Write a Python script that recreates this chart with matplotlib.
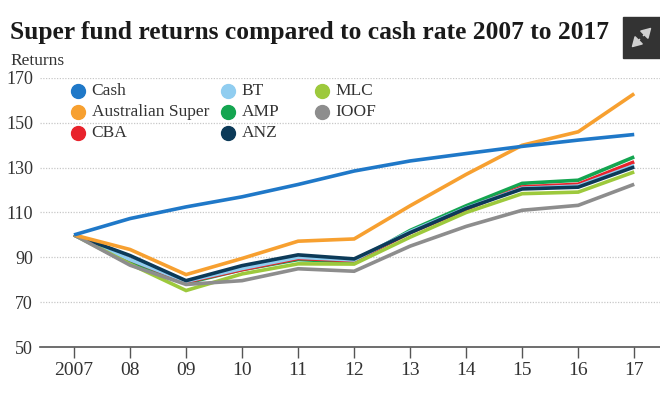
import matplotlib
matplotlib.use("Agg")
import matplotlib.pyplot as plt
from matplotlib.patches import Rectangle, FancyArrowPatch

years = ["2007", "08", "09", "10", "11", "12", "13", "14", "15", "16", "17"]
cash = [100, 107.3, 112.5, 117, 122.5, 128.5, 133, 136.3, 139.5, 142.3, 144.8]
aus_super = [100, 93.5, 82.3, 89.5, 97.2, 98.2, 113, 127, 140, 146, 163]
cba = [100, 89, 79, 84.5, 89.5, 88.5, 101, 111.5, 121.4, 122.6, 132.6]
bt = [100, 89, 79.3, 85, 90, 88.8, 101.5, 112, 120.8, 121.8, 131]
amp = [100, 88, 78.5, 84.5, 89, 88, 102, 113, 123, 124.4, 134.8]
anz = [100, 90.8, 79.6, 86.3, 91.1, 89.3, 101, 111.8, 120.5, 121.3, 130.3]
mlc = [100, 87, 75.2, 82.6, 87.1, 87, 99, 110, 118.4, 119.1, 128.1]
ioof = [100, 86.5, 77.9, 79.6, 84.9, 83.8, 95, 103.8, 111, 113.2, 122.6]
yticks = [50, 70, 90, 110, 130, 150, 170]

colors = {
    "Cash": "#1f78c8",
    "Australian Super": "#f7a030",
    "CBA": "#e8232c",
    "BT": "#90cdf0",
    "AMP": "#14a550",
    "ANZ": "#0c3a58",
    "MLC": "#9dc93c",
    "IOOF": "#8d8d8d",
}
series = {
    "Cash": cash, "Australian Super": aus_super, "CBA": cba, "BT": bt,
    "AMP": amp, "ANZ": anz, "MLC": mlc, "IOOF": ioof,
}
draw_order = ["AMP", "CBA", "BT", "MLC", "ANZ", "IOOF", "Australian Super", "Cash"]
legend_cols = [["Cash", "Australian Super", "CBA"], ["BT", "AMP", "ANZ"], ["MLC", "IOOF"]]

serif = ["Liberation Serif", "DejaVu Serif"]
plt.rcParams["font.family"] = serif

fig = plt.figure(figsize=(6.6, 3.98), dpi=100)
ax = fig.add_axes([40 / 660, 1 - 347 / 398, 620 / 660, (347 - 78) / 398])

x = list(range(len(years)))
for name in draw_order:
    ax.plot(x, series[name], color=colors[name], lw=2.6, solid_capstyle="butt",
            solid_joinstyle="miter", zorder=3)

ax.set_xlim(-0.607, len(years) - 1 + 0.46)
ax.set_ylim(50, 170)
ax.set_yticks(yticks)
ax.set_yticklabels([str(v) for v in yticks], fontsize=13, color="#333333")
ax.set_xticks(x)
ax.set_xticklabels(years, fontsize=14, color="#333333")
ax.tick_params(axis="y", length=0, pad=5)
ax.tick_params(axis="x", length=8, width=1, color="#555555", pad=3)
for v in yticks[1:]:
    ax.axhline(v, color="#c8c8c8", lw=0.9, ls=(0, (1, 1.2)), zorder=1)
for s in ["top", "right", "left"]:
    ax.spines[s].set_visible(False)
ax.spines["bottom"].set_color("#555555")
ax.spines["bottom"].set_linewidth(1.2)

# legend (three columns placed like the reference)
col_x = [0.0613, 0.303, 0.455]
row_y = [0.952, 0.874, 0.796]
for cx_, names in zip(col_x, legend_cols):
    for ry, name in zip(row_y, names):
        ax.plot([cx_], [ry], marker="o", ms=10, color=colors[name],
                transform=ax.transAxes, clip_on=False, ls="none", zorder=5)
        ax.text(cx_ + 0.022, ry, name, transform=ax.transAxes, fontsize=12.5,
                color="#333333", va="center", ha="left")

fig.text(10 / 660, 1 - 33 / 398, "Super fund returns compared to cash rate 2007 to 2017",
         fontsize=18.4, fontweight="bold", color="#1a1a1a", va="center", ha="left")
fig.text(10 / 660, 1 - 61 / 398, "Returns", fontsize=12.5, color="#333333",
         va="center", ha="left")

# expand icon
fig.add_artist(Rectangle((623 / 660, 1 - 58 / 398), 40 / 660, 41 / 398,
                         transform=fig.transFigure, color="#333333", zorder=1))
cx, cy = 641.5, 37.5
for dx, dy in [(1, -1), (-1, 1)]:
    fig.add_artist(FancyArrowPatch(
        ((cx + dx * 2) / 660, 1 - (cy + dy * 2) / 398),
        ((cx + dx * 10) / 660, 1 - (cy + dy * 10) / 398),
        transform=fig.transFigure, arrowstyle="-|>,head_length=0.6,head_width=0.35",
        mutation_scale=10, shrinkA=0, shrinkB=0,
        color="#d0d0d0", lw=1.2, zorder=5))

fig.savefig("out.png", dpi=100)
